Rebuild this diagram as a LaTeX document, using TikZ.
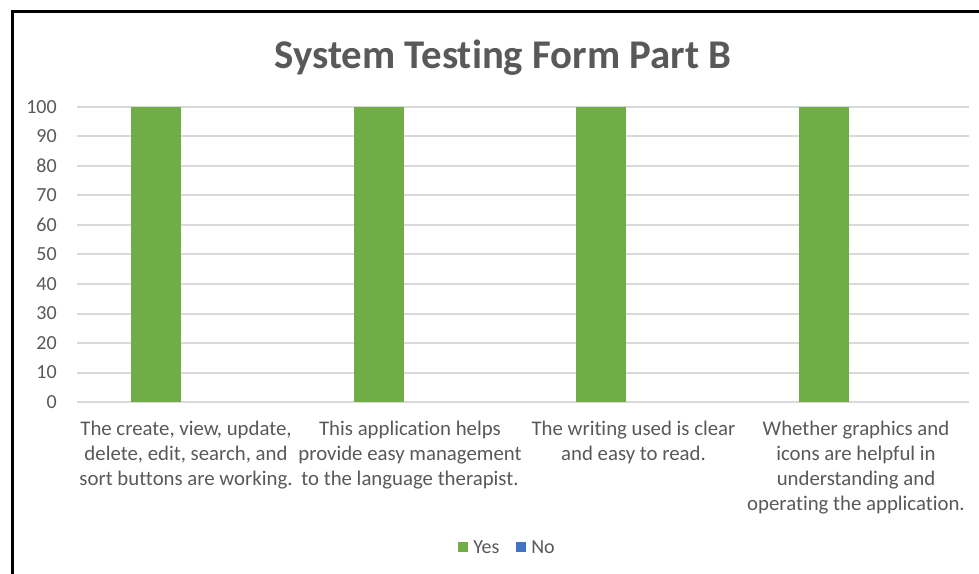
\documentclass[tikz,border=0pt]{standalone}
\usepackage{xcolor}
\usepackage{fontspec}
\setmainfont{Carlito}[Ligatures=NoCommon]
\usepackage{tikz}

\definecolor{yesgreen}{HTML}{70AD47}
\definecolor{noblue}{HTML}{4472C4}
\definecolor{gridgray}{HTML}{D9D9D9}
\definecolor{textgray}{HTML}{595959}

\begin{document}
\begin{tikzpicture}[x=0.75pt,y=-0.75pt,
    ticklabel/.style={anchor=east,inner sep=0pt,text=textgray,font=\fontsize{15}{18}\selectfont},
    catlabel/.style={anchor=north,inner sep=0pt,align=center,text=textgray,font=\fontsize{15.6}{18.75}\selectfont},
    legendlabel/.style={anchor=west,inner sep=0pt,text=textgray,font=\fontsize{15}{18}\selectfont}]

\useasboundingbox (0,0) rectangle (979,574);
\fill[white] (0,0) rectangle (979,574);

% Frame (left and top only)
\draw[line width=2.25pt] (12.5,574) -- (12.5,11.5) -- (979,11.5);

% Title
\node[text=textgray,font=\fontsize{30.6}{35}\selectfont\bfseries] (title) at (503,58) {System Testing Form Part B};

% Grid lines and value labels
\foreach \v in {0,10,...,100} {
    \draw[gridgray,line width=1.5pt] (77,{402-2.95*\v}) -- (969,{402-2.95*\v});
    \node[ticklabel] (tick\v) at (57,{402-2.95*\v}) {\v};
}

% Yes bars
\foreach \c in {0,1,2,3}
    \fill[yesgreen] ({131+222.67*\c},107) rectangle ({181+222.67*\c},402);

% Category labels
\node[catlabel] (cat1) at (186,421) {The create, view, update,\\ delete, edit, search, and\\ sort buttons are working.};
\node[catlabel] (cat2) at (410,421) {This application helps\\ provide easy management\\ to the language therapist.};
\node[catlabel] (cat3) at (633.5,421) {The writing used is clear\\ and easy to read.};
\node[catlabel] (cat4) at (856,421) {Whether graphics and\\ icons are helpful in\\ understanding and\\ operating the application.};

% Legend
\fill[yesgreen] (458,542) rectangle (468,552);
\node[legendlabel] (yes) at (473,547) {Yes};
\fill[noblue] (516,542) rectangle (526,552);
\node[legendlabel] (no) at (531,547) {No};

\end{tikzpicture}
\end{document}
